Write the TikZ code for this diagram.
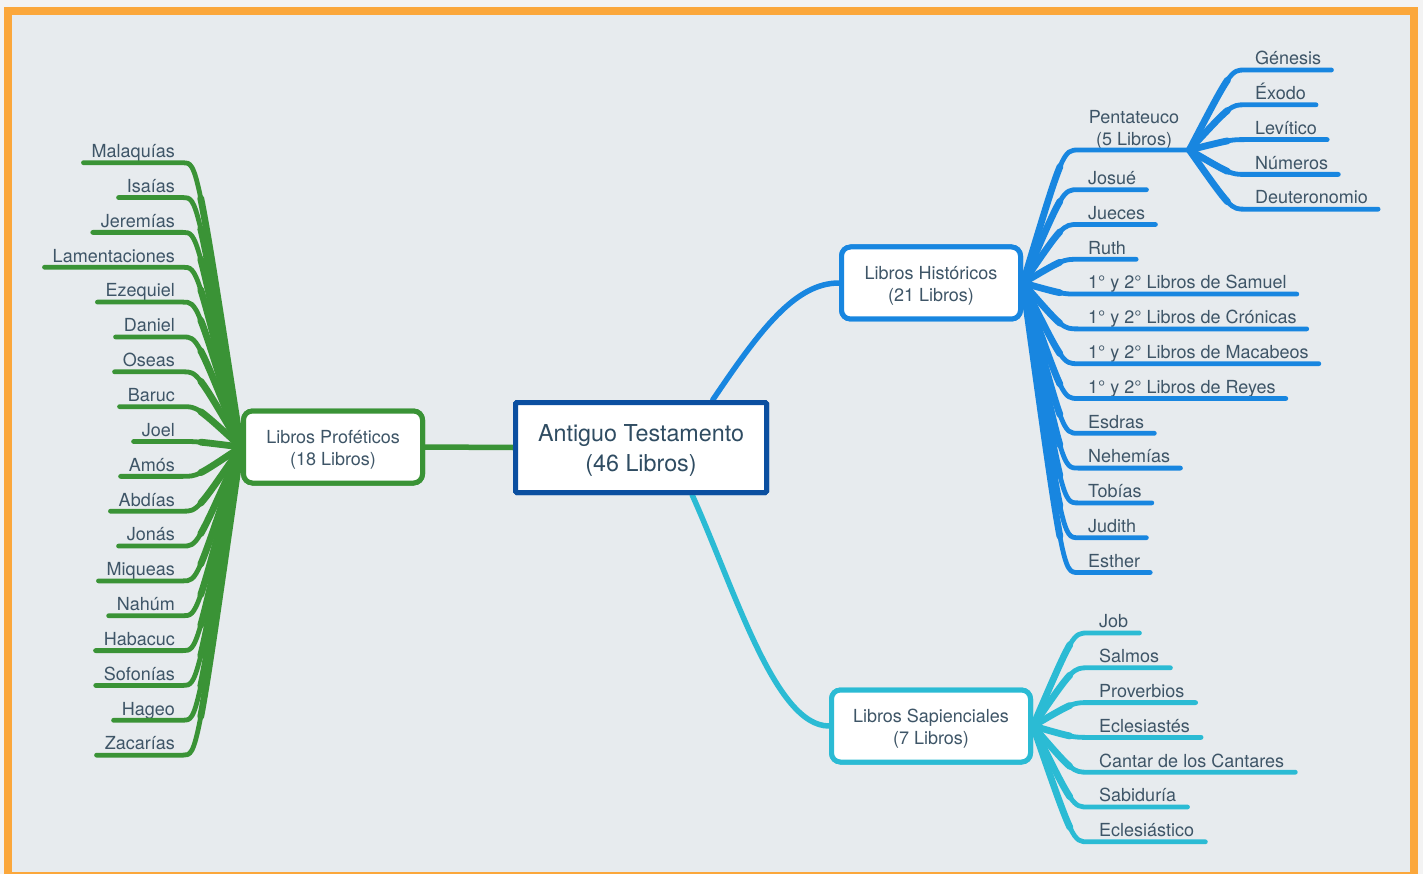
\documentclass[tikz,border=0pt]{standalone}
\usepackage{fontspec}
\setmainfont{TeX Gyre Heros}
\usetikzlibrary{calc}
\definecolor{bgc}{HTML}{E7EBEE}
\definecolor{outc}{HTML}{F3F3F3}
\definecolor{frame}{HTML}{FBA73B}
\definecolor{txt}{HTML}{3E5567}
\definecolor{maintxt}{HTML}{2F4C62}
\definecolor{gr}{HTML}{3A9336}
\definecolor{bl}{HTML}{1886E0}
\definecolor{cy}{HTML}{2BBBD4}
\definecolor{navy}{HTML}{0B4FA0}
% thicker start of a branch (taper): #1 style, #2 root, #3 control, #4 end
\newcommand\mytaper[4]{%
  \path #2 coordinate (tA0) #3 coordinate (tC) #4 coordinate (tB3);
  \path ($(tA0)!.5!(tC)$) coordinate (tA) ($(tC)!.5!(tB3)$) coordinate (tD)
        ($(tA)!.5!(tC)$) coordinate (tE) ($(tC)!.5!(tD)$) coordinate (tF)
        ($(tE)!.5!(tF)$) coordinate (tG);
  \draw[#1, line width=6.8pt] (tA0) .. controls (tA) and (tE) .. (tG);
}
\begin{document}
\begin{tikzpicture}[x=1pt,y=-1pt,
  lbl/.style={font=\fontsize{18}{22}\selectfont, text=txt},
  leaf/.style={lbl, inner xsep=8pt, inner ysep=0pt, text height=13pt, text depth=5pt},
  rleaf/.style={leaf, inner xsep=10pt, anchor=south west},
  lleaf/.style={leaf, anchor=south east},
  conn/.style={line width=4.8pt, line cap=round, line join=round},
  gline/.style={conn, draw=gr},
  bline/.style={conn, draw=bl},
  cline/.style={conn, draw=cy},
  topic/.style={fill=white, line width=5pt, rounded corners=9pt, minimum height=72pt},
  topictext/.style={lbl, align=center},
  central/.style={fill=white, draw=navy, line width=5pt, rounded corners=1.5pt, minimum width=251pt, minimum height=90pt}
]
\useasboundingbox (0,0) rectangle (1423,874);
\clip (0,0) rectangle (1423,874);
\fill[outc] (0,0) rectangle (1423,874);
\fill[bgc] (12,15) rectangle (1410,874);
\draw[frame, line width=8pt] (8,11) rectangle (1414,876);

% main connectors (drawn first, ends hidden under the boxes)
\coordinate (mainpos) at (641,447.5);
\node[central] (main) at (mainpos) {};
\node[topic, draw=gr, minimum width=179pt] (prof) at (333,447) {};
\node[topic, draw=bl, minimum width=179pt] (hist) at (931,283) {};
\node[topic, draw=cy, minimum width=199pt] (sap) at (931,726) {};
\draw[gline, line width=5.5pt] (main.west) -- (prof.east);
\draw[bline, line width=5.5pt] ($(main.north west)!0.78!(main.north east)$) .. controls (760,330) and (795,283) .. (hist.west);
\draw[cline, line width=5.5pt] ($(main.south west)!0.70!(main.south east)$) .. controls (735,590) and (775,726) .. (sap.west);
% boxes and their texts on top
\node[central] at (mainpos) {};
\node[topic, draw=gr, minimum width=179pt] at (prof) {};
\node[topic, draw=bl, minimum width=179pt] at (hist) {};
\node[topic, draw=cy, minimum width=199pt] at (sap) {};
\node[font=\fontsize{23.3}{30}\selectfont, text=maintxt, align=center] (maint) at ([yshift=-3pt]main.center) {Antiguo Testamento\\(46 Libros)};
\node[topictext] (proft) at ([yshift=-3pt]prof.center) {Libros Proféticos\\(18 Libros)};
\node[topictext] (histt) at ([yshift=-3pt]hist.center) {Libros Históricos\\(21 Libros)};
\node[topictext] (sapt) at ([yshift=-3pt]sap.center) {Libros Sapienciales\\(7 Libros)};

% prophetic books (left)
\foreach \t [count=\i from 0] in {Malaquías,Isaías,Jeremías,Lamentaciones,Ezequiel,Daniel,Oseas,Baruc,Joel,Amós,Abdías,Jonás,Miqueas,Nahúm,Habacuc,Sofonías,Hageo,Zacarías}{
  \pgfmathsetmacro\yy{162.7+34.85*\i}
  \node[lleaf] (g\i) at (183,\yy) {\t};
  \mytaper{gline}{(prof.west)}{(197,\yy)}{(g\i.south east)}
  \draw[gline] (prof.west) .. controls (197,\yy) .. (g\i.south east) -- (g\i.south west);
}

% historical books (right, blue)
\node[lbl, align=center, inner xsep=10pt, inner ysep=0pt, anchor=south] (pent) at (1134,150) {Pentateuco\\(5 Libros)};
\mytaper{bline}{(hist.east)}{(1063,150)}{(pent.south west)}
\draw[bline] (hist.east) .. controls (1063,150) .. (pent.south west) -- (pent.south east);
\foreach \t [count=\j from 0] in {Génesis,Éxodo,Levítico,Números,Deuteronomio}{
  \pgfmathsetmacro\yy{70+34.8*\j}
  \node[rleaf] (s\j) at (1245,\yy) {\t};
  \mytaper{bline}{(pent.south east)}{(1231,\yy)}{(s\j.south west)}
  \draw[bline] (pent.south east) .. controls (1231,\yy) .. (s\j.south west) -- (s\j.south east);
}
\foreach \t [count=\i from 0] in {Josué,Jueces,Ruth,1° y 2° Libros de Samuel,1° y 2° Libros de Crónicas,1° y 2° Libros de Macabeos,1° y 2° Libros de Reyes,Esdras,Nehemías,Tobías,Judith,Esther}{
  \pgfmathsetmacro\yy{189.7+34.8*\i}
  \node[rleaf] (b\i) at (1078,\yy) {\t};
  \mytaper{bline}{(hist.east)}{(1063,\yy)}{(b\i.south west)}
  \draw[bline] (hist.east) .. controls (1063,\yy) .. (b\i.south west) -- (b\i.south east);
}

% wisdom books (right, cyan)
\foreach \t [count=\i from 0] in {Job,Salmos,Proverbios,Eclesiastés,Cantar de los Cantares,Sabiduría,Eclesiástico}{
  \pgfmathsetmacro\yy{633+34.8*\i}
  \node[rleaf, inner xsep=11pt] (c\i) at (1088,\yy) {\t};
  \mytaper{cline}{(sap.east)}{(1073,\yy)}{(c\i.south west)}
  \draw[cline] (sap.east) .. controls (1073,\yy) .. (c\i.south west) -- (c\i.south east);
}
\end{tikzpicture}
\end{document}
